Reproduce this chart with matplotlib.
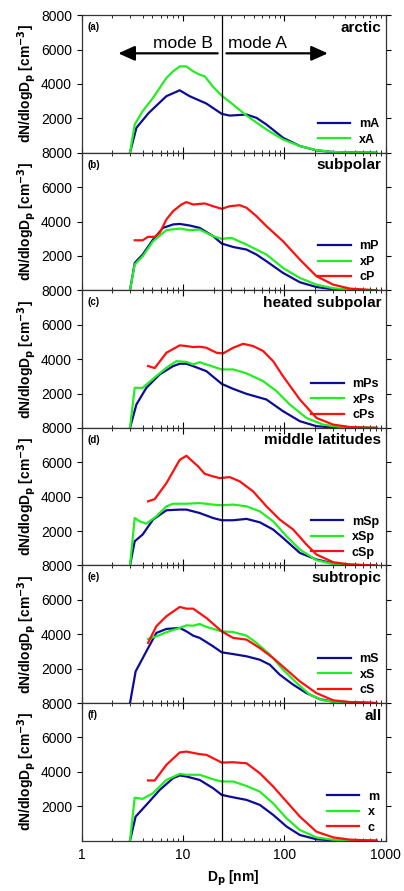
import matplotlib.pyplot as plt
import numpy as np

plt.rcParams['font.family'] = ['Liberation Sans', 'DejaVu Sans']

# panel (a) arctic
dA_m = [3.0, 3.47, 4.6, 6.86, 9.28, 11.6, 17, 24.1, 28.9, 42.3, 53, 66.5, 97, 142, 207, 303, 811]
mA = [0, 1450, 2320, 3290, 3630, 3290, 2860, 2260, 2160, 2220, 2030, 1640, 870, 390, 140, 40, 0]
dA_x = [3.0, 3.34, 4.0, 5.06, 6.86, 7.97, 9.28, 10.8, 12.6, 14.6, 16.4, 19.8, 24.1, 31.2, 42.3, 66.5, 97, 142, 207, 303, 811]
xA = [0, 1640, 2420, 3190, 4350, 4730, 5020, 5020, 4730, 4540, 4440, 3830, 3320, 2800, 2160, 1350, 770, 390, 150, 40, 0]

# panel (b) subpolar
dP_m = [3.0, 3.34, 4.0, 5.06, 6.35, 7.97, 9.28, 11.6, 14.6, 19.8, 24.1, 31.2, 42.3, 53, 66.5, 97, 142, 207, 303, 811]
mP = [0, 1590, 2080, 2950, 3630, 3830, 3860, 3770, 3630, 3150, 2720, 2520, 2370, 2080, 1690, 1010, 470, 190, 60, 0]
dP_x = [3.0, 3.34, 4.0, 5.06, 6.86, 9.28, 11.6, 14.6, 19.8, 24.1, 30, 42.3, 66.5, 97, 142, 207, 303, 442, 811]
xP = [0, 1500, 1980, 2850, 3500, 3590, 3500, 3530, 3150, 2990, 3050, 2660, 2080, 1300, 720, 330, 120, 40, 0]
dP_c = [3.34, 4.0, 4.52, 5.26, 5.89, 6.86, 7.97, 9.64, 10.8, 12.6, 16.4, 19.8, 24.1, 28.9, 36.3, 42.3, 53, 66.5, 97, 142, 207, 303, 442, 811]
cP = [2910, 2910, 3110, 3110, 3340, 4120, 4600, 4990, 5130, 4990, 5050, 4890, 4740, 4890, 4950, 4800, 4310, 3730, 2850, 1790, 820, 330, 100, 0]

# panel (c) heated subpolar
dPs_m = [3.0, 3.47, 4.35, 5.89, 7.97, 9.28, 10.8, 12.6, 17, 24.1, 31.2, 42.3, 66.5, 97, 142, 207, 303, 811]
mPs = [0, 1360, 2330, 3110, 3590, 3730, 3730, 3590, 3300, 2560, 2270, 1980, 1650, 970, 390, 100, 20, 0]
dPs_x = [3.0, 3.34, 4.0, 5.06, 6.86, 8.6, 10.8, 12.6, 14.6, 17, 24.1, 31.2, 42.3, 61.7, 83.5, 113, 165, 241, 380, 811]
xPs = [0, 2330, 2330, 2850, 3500, 3880, 3840, 3690, 3820, 3690, 3400, 3400, 3170, 2720, 2140, 1360, 580, 190, 30, 0]
dPs_c = [4.52, 5.26, 6.86, 9.28, 10.8, 12.6, 14.6, 17, 21.4, 24.8, 31.2, 39.2, 49.1, 61.7, 77.4, 97, 142, 207, 303, 442, 811]
cPs = [3600, 3480, 4370, 4800, 4760, 4700, 4720, 4660, 4370, 4330, 4660, 4890, 4760, 4470, 3880, 3000, 1650, 580, 190, 50, 0]

# panel (d) middle latitudes
dSp_m = [3.0, 3.34, 4.0, 5.06, 6.86, 9.28, 10.8, 14.6, 19.8, 24.1, 31.2, 42.3, 57.2, 77.4, 97, 142, 207, 303, 442, 811]
mSp = [0, 1410, 1800, 2670, 3210, 3250, 3250, 3050, 2760, 2630, 2630, 2710, 2510, 2090, 1600, 730, 350, 120, 40, 0]
dSp_x = [3.0, 3.34, 3.74, 4.35, 5.46, 6.86, 7.97, 10.8, 14.6, 19.8, 24.1, 31.2, 42.3, 57.2, 77.4, 105, 142, 207, 303, 442, 811]
xSp = [0, 2760, 2570, 2430, 2860, 3440, 3590, 3590, 3630, 3540, 3500, 3540, 3440, 3150, 2570, 1700, 930, 310, 80, 20, 0]
dSp_c = [4.52, 5.26, 6.86, 9.28, 10.8, 14.1, 16.4, 19.8, 23, 28.9, 36.3, 49.1, 66.5, 90, 122, 165, 207, 303, 442, 811]
cSp = [3730, 3860, 4790, 6140, 6380, 5760, 5330, 5180, 5080, 5140, 4890, 4310, 3440, 2670, 2090, 1220, 640, 190, 60, 0]

# panel (e) subtropic
dS_m = [3.0, 3.41, 4.35, 5.46, 6.86, 9.28, 10.8, 12.6, 14.6, 19.8, 24.1, 31.2, 42.3, 57.2, 71.8, 90, 122, 165, 223, 303, 811]
mS = [0, 1840, 3010, 4080, 4310, 4370, 4170, 3920, 3790, 3300, 2950, 2850, 2720, 2520, 2230, 1650, 1070, 580, 230, 80, 0]
dS_x = [4.52, 5.46, 6.86, 9.28, 10.8, 12.6, 14.6, 17, 24.1, 31.2, 42.3, 53, 71.8, 97, 132, 178, 241, 350, 811]
xS = [3730, 3880, 4120, 4370, 4520, 4500, 4600, 4430, 4170, 4130, 3920, 3500, 2820, 1940, 1170, 490, 160, 40, 0]
dS_c = [4.52, 5.46, 6.86, 9.28, 10.8, 12.6, 17, 24.1, 31.2, 42.3, 57.2, 77.4, 105, 142, 207, 303, 442, 811]
cS = [3500, 4470, 5050, 5590, 5490, 5490, 4950, 4170, 3790, 3690, 3200, 2620, 1940, 1260, 580, 160, 60, 0]

# panel (f) all
d_m = [3.0, 3.41, 4.35, 5.89, 7.97, 9.28, 10.8, 14.6, 19.8, 24.1, 31.2, 42.3, 57.2, 77.4, 105, 142, 207, 303, 811]
m_all = [0, 1400, 2080, 2950, 3630, 3790, 3730, 3530, 3050, 2660, 2520, 2370, 2080, 1500, 820, 330, 80, 20, 0]
d_x = [3.0, 3.34, 4.0, 5.06, 6.86, 9.28, 10.8, 14.6, 19.8, 24.1, 31.2, 42.3, 57.2, 77.4, 105, 142, 207, 303, 811]
x_all = [0, 2500, 2430, 2760, 3530, 3880, 3830, 3830, 3570, 3440, 3440, 3180, 2850, 2170, 1300, 620, 190, 50, 0]
d_c = [4.52, 5.26, 6.86, 9.28, 10.8, 14.6, 17, 24.1, 31.2, 42.3, 57.2, 77.4, 105, 142, 207, 303, 442, 811]
c_all = [3500, 3500, 4410, 5130, 5180, 5030, 4990, 4540, 4560, 4500, 3920, 3150, 2270, 1400, 520, 190, 60, 0]

panels = [
    ("(a)", "arctic", [(dA_m, mA, "mA"), (dA_x, xA, "xA")]),
    ("(b)", "subpolar", [(dP_m, mP, "mP"), (dP_x, xP, "xP"), (dP_c, cP, "cP")]),
    ("(c)", "heated subpolar", [(dPs_m, mPs, "mPs"), (dPs_x, xPs, "xPs"), (dPs_c, cPs, "cPs")]),
    ("(d)", "middle latitudes", [(dSp_m, mSp, "mSp"), (dSp_x, xSp, "xSp"), (dSp_c, cSp, "cSp")]),
    ("(e)", "subtropic", [(dS_m, mS, "mS"), (dS_x, xS, "xS"), (dS_c, cS, "cS")]),
    ("(f)", "all", [(d_m, m_all, "m"), (d_x, x_all, "x"), (d_c, c_all, "c")]),
]
colors = ["#0c0c96", "#22ee22", "#ff1010"]
d_split = 24.5

fig, axes = plt.subplots(6, 1, figsize=(4.04, 8.91), dpi=100, sharex=True)
fig.subplots_adjust(left=0.202, right=0.955, top=0.983, bottom=0.0565, hspace=0)

for ax, (tag, name, series) in zip(axes, panels):
    for (d, v, lab), col in zip(series, colors):
        ax.plot(d, v, color=col, lw=1.6, label=lab)
    ax.axvline(d_split, color="black", lw=0.9)
    ax.set_xscale("log")
    ax.set_xlim(1, 1000)
    ax.set_ylim(0, 8000)
    ax.set_yticks([2000, 4000, 6000, 8000])
    ax.tick_params(axis="y", which="major", direction="out", length=3.5, labelsize=10, right=True)
    ax.tick_params(axis="x", which="both", direction="in", top=True, labelsize=10)
    ax.tick_params(axis="x", which="major", length=4)
    ax.tick_params(axis="x", which="minor", length=2.5)
    for sp in ax.spines.values():
        sp.set_linewidth(0.9)
        sp.set_color("#333333")
    ax.set_ylabel("dN/dlogD$_\\mathbf{p}$ [cm$^\\mathbf{-3}$]", fontsize=10, fontweight="bold", labelpad=2)
    ax.text(0.02, 0.95, tag, transform=ax.transAxes, fontsize=7, fontweight="bold", va="top", ha="left")
    ax.text(0.985, 0.96, name, transform=ax.transAxes, fontsize=11, fontweight="bold", va="top", ha="right")
    leg = ax.legend(loc="lower right", frameon=False, fontsize=9, handlelength=2.6,
                    handletextpad=0.7, labelspacing=0.28, borderaxespad=0.15)
    for t in leg.get_texts():
        t.set_fontweight("bold")

ax0 = axes[0]
arrow = dict(arrowstyle="-|>,head_length=1.0,head_width=0.45", color="black", lw=1.6,
             shrinkA=0, shrinkB=0)
ax0.annotate("", xy=(2.3, 5780), xytext=(22, 5780), arrowprops=arrow)
ax0.annotate("", xy=(268, 5780), xytext=(26.8, 5780), arrowprops=arrow)
ax0.text(19.8, 5900, "mode B", fontsize=12.5, ha="right", va="bottom")
ax0.text(28, 5900, "mode A", fontsize=12.5, ha="left", va="bottom")

axes[-1].set_xticks([1, 10, 100, 1000])
axes[-1].set_xticklabels(["1", "10", "100", "1000"])
axes[-1].tick_params(axis="x", which="major", pad=5)
axes[-1].set_xlabel("D$_\\mathbf{p}$ [nm]", fontsize=10, fontweight="bold", labelpad=5)

fig.savefig("out.png", dpi=100)
